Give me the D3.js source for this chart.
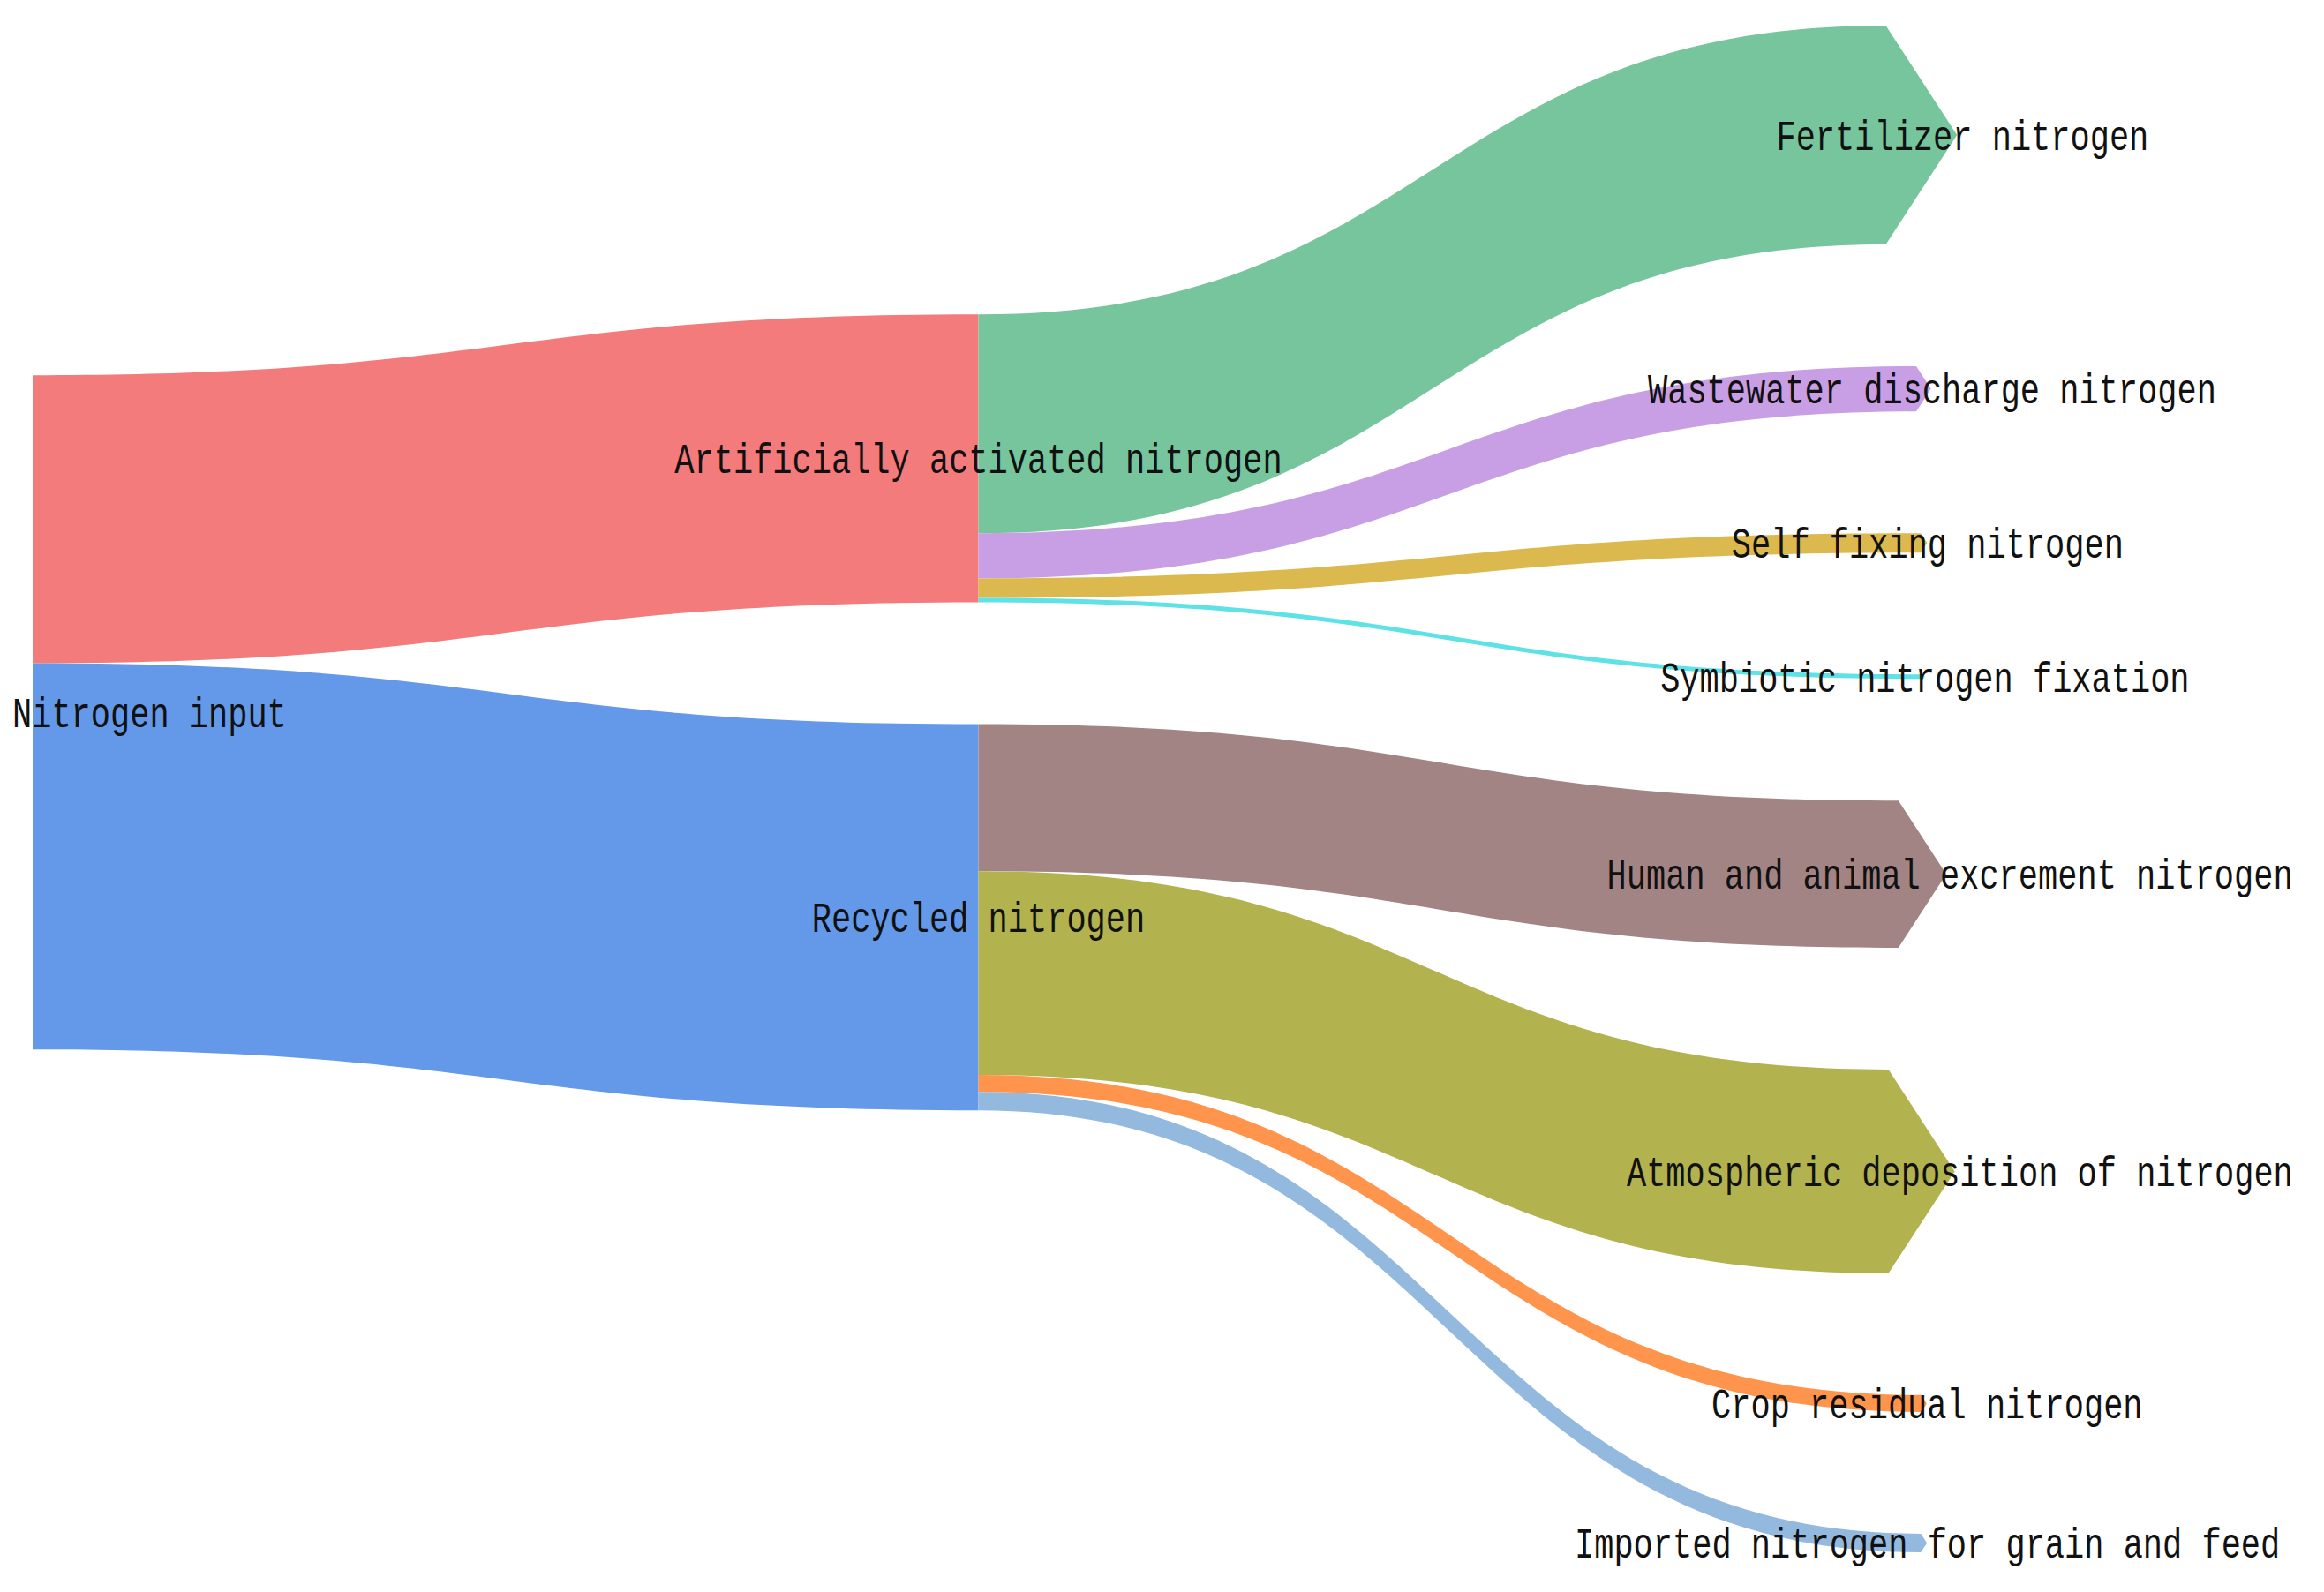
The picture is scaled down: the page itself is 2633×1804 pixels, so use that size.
<!DOCTYPE html>
<html>
<head>
<meta charset="utf-8">
<script src="https://cdn.jsdelivr.net/npm/d3@7"></script>
<style>
  html, body { margin: 0; padding: 0; background: #ffffff; }
  svg { display: block; }
</style>
</head>
<body>
<svg id="chart" width="2633" height="1804"></svg>
<script>
// ---------------- DATA ----------------
const nodeNames = [
  "Nitrogen input",
  "Artificially activated nitrogen",
  "Recycled nitrogen",
  "Fertilizer nitrogen",
  "Wastewater discharge nitrogen",
  "Self fixing nitrogen",
  "Symbiotic nitrogen fixation",
  "Human and animal excrement nitrogen",
  "Atmospheric deposition of nitrogen",
  "Crop residual nitrogen",
  "Imported nitrogen for grain and feed"
];
const linkSources = [0, 0, 1, 1, 1, 1, 2, 2, 2, 2];
const linkTargets = [1, 2, 3, 4, 5, 6, 7, 8, 9, 10];
const linkValues  = [325, 436, 247, 51, 22, 5, 166, 230, 19, 21];
const linkColors  = ["#F37B7B", "#6399E8", "#76C59D", "#C89FE5", "#DCB94F",
                     "#5EE2E6", "#A38484", "#B2B24F", "#FF944D", "#93B9DF"];

// ---------------- LAYOUT SETTINGS ----------------
const W = 2633, H = 1804;
const extent = { x0: 37, y0: 29, x1: 2180, y1: 1759 };
const nodeWidth = 0;
const nodePadding = 138;
const iterations = 1;
const keepOrder = true;
const arrowBack = 0.35, arrowTip = 0.30, labelShift = 0.35;
const fontSize = 37, fontStretch = 1.3;

// ---------------- SANKEY (port of d3-sankey algorithm) ----------------
function sankey(nodes, links) {
  const {x0, y0, x1, y1} = extent;
  const dx = nodeWidth;
  let py = nodePadding;
  nodes.forEach((n, i) => { n.index = i; n.sourceLinks = []; n.targetLinks = []; });
  links.forEach((l, i) => {
    l.index = i;
    l.source = nodes[l.source]; l.target = nodes[l.target];
    l.source.sourceLinks.push(l); l.target.targetLinks.push(l);
  });
  nodes.forEach(n => {
    n.value = Math.max(d3.sum(n.sourceLinks, l => l.value), d3.sum(n.targetLinks, l => l.value));
  });
  let current = new Set(nodes), next = new Set(), x = 0;
  while (current.size) {
    for (const n of current) { n.depth = x; for (const {target} of n.sourceLinks) next.add(target); }
    if (++x > nodes.length) throw new Error("circular link");
    current = next; next = new Set();
  }
  const nLayers = d3.max(nodes, d => d.depth) + 1;
  const kx = (x1 - x0 - dx) / (nLayers - 1);
  const columns = new Array(nLayers);
  for (const n of nodes) {
    const i = Math.max(0, Math.min(nLayers - 1, n.sourceLinks.length ? n.depth : nLayers - 1));
    n.layer = i;
    n.x0 = x0 + i * kx;
    n.x1 = n.x0 + dx;
    if (columns[i]) columns[i].push(n); else columns[i] = [n];
  }
  py = Math.min(nodePadding, (y1 - y0) / (d3.max(columns, c => c.length) - 1));

  const ascBreadth = (a, b) => a.y0 - b.y0;
  const ascSrc = (a, b) => ascBreadth(a.source, b.source) || a.index - b.index;
  const ascTgt = (a, b) => ascBreadth(a.target, b.target) || a.index - b.index;
  function reorderLinks(ns) {
    for (const {sourceLinks, targetLinks} of ns) { sourceLinks.sort(ascTgt); targetLinks.sort(ascSrc); }
  }
  function reorderNodeLinks({sourceLinks, targetLinks}) {
    for (const {source} of targetLinks) source.sourceLinks.sort(ascTgt);
    for (const {target} of sourceLinks) target.targetLinks.sort(ascSrc);
  }
  const ky = d3.min(columns, c => (y1 - y0 - (c.length - 1) * py) / d3.sum(c, d => d.value));
  for (const ns of columns) {
    let y = y0;
    for (const n of ns) {
      n.y0 = y; n.y1 = y + n.value * ky; y = n.y1 + py;
      for (const l of n.sourceLinks) l.width = l.value * ky;
    }
    y = (y1 - y + py) / (ns.length + 1);
    for (let i = 0; i < ns.length; ++i) { ns[i].y0 += y * (i + 1); ns[i].y1 += y * (i + 1); }
    reorderLinks(ns);
  }
  function targetTop(source, target) {
    let y = source.y0 - (source.sourceLinks.length - 1) * py / 2;
    for (const {target: node, width} of source.sourceLinks) { if (node === target) break; y += width + py; }
    for (const {source: node, width} of target.targetLinks) { if (node === source) break; y -= width; }
    return y;
  }
  function sourceTop(source, target) {
    let y = target.y0 - (target.targetLinks.length - 1) * py / 2;
    for (const {source: node, width} of target.targetLinks) { if (node === source) break; y += width + py; }
    for (const {target: node, width} of source.sourceLinks) { if (node === target) break; y -= width; }
    return y;
  }
  function collTB(ns, y, i, a) {
    for (; i < ns.length; ++i) { const n = ns[i]; const d = (y - n.y0) * a; if (d > 1e-6) { n.y0 += d; n.y1 += d; } y = n.y1 + py; }
  }
  function collBT(ns, y, i, a) {
    for (; i >= 0; --i) { const n = ns[i]; const d = (n.y1 - y) * a; if (d > 1e-6) { n.y0 -= d; n.y1 -= d; } y = n.y0 - py; }
  }
  function resolve(ns, a) {
    const i = ns.length >> 1, s = ns[i];
    collBT(ns, s.y0 - py, i - 1, a);
    collTB(ns, s.y1 + py, i + 1, a);
    collBT(ns, y1, ns.length - 1, a);
    collTB(ns, y0, 0, a);
  }
  function relaxLR(a, b) {
    for (let i = 1; i < columns.length; ++i) {
      const col = columns[i];
      for (const t of col) {
        let y = 0, w = 0;
        for (const {source, value} of t.targetLinks) {
          const v = value * (t.layer - source.layer);
          y += targetTop(source, t) * v; w += v;
        }
        if (!(w > 0)) continue;
        const d = (y / w - t.y0) * a; t.y0 += d; t.y1 += d; reorderNodeLinks(t);
      }
      if (!keepOrder) col.sort(ascBreadth);
      resolve(col, b);
    }
  }
  function relaxRL(a, b) {
    for (let i = columns.length - 2; i >= 0; --i) {
      const col = columns[i];
      for (const s of col) {
        let y = 0, w = 0;
        for (const {target, value} of s.sourceLinks) {
          const v = value * (target.layer - s.layer);
          y += sourceTop(s, target) * v; w += v;
        }
        if (!(w > 0)) continue;
        const d = (y / w - s.y0) * a; s.y0 += d; s.y1 += d; reorderNodeLinks(s);
      }
      if (!keepOrder) col.sort(ascBreadth);
      resolve(col, b);
    }
  }
  for (let i = 0; i < iterations; ++i) {
    const a = Math.pow(0.99, i);
    const b = Math.max(1 - a, (i + 1) / iterations);
    relaxRL(a, b); relaxLR(a, b);
  }
  for (const n of nodes) {
    let ya = n.y0, yb = n.y0;
    for (const l of n.sourceLinks) { l.y0 = ya + l.width / 2; ya += l.width; }
    for (const l of n.targetLinks) { l.y1 = yb + l.width / 2; yb += l.width; }
  }
  return {nodes, links};
}

const graph = sankey(
  nodeNames.map(name => ({name})),
  linkValues.map((v, i) => ({source: linkSources[i], target: linkTargets[i], value: v, color: linkColors[i]}))
);

// ---------------- DRAW ----------------
const svg = d3.select("#chart");
svg.append("rect").attr("width", W).attr("height", H).attr("fill", "#ffffff");

function ribbon(l) {
  const h = l.width / 2;
  const xs = l.source.x1, xt = l.target.x0;
  const last = l.target.sourceLinks.length === 0;
  const xe = last ? xt - arrowBack * h : xt;
  const xm = (xs + xe) / 2;
  const p = d3.path();
  p.moveTo(xs, l.y0 - h);
  p.bezierCurveTo(xm, l.y0 - h, xm, l.y1 - h, xe, l.y1 - h);
  if (last) p.lineTo(xt + arrowTip * h, l.y1);
  p.lineTo(xe, l.y1 + h);
  p.bezierCurveTo(xm, l.y1 + h, xm, l.y0 + h, xs, l.y0 + h);
  p.closePath();
  return p.toString();
}

svg.append("g").attr("class", "links")
  .selectAll("path").data(graph.links).join("path")
  .attr("d", ribbon)
  .attr("fill", d => d.color)
  .attr("stroke", "none");

const labels = svg.append("g").attr("class", "labels")
  .selectAll("text").data(graph.nodes).join("text")
  .text(d => d.name)
  .attr("font-family", "'Liberation Mono', 'DejaVu Sans Mono', monospace")
  .attr("font-size", fontSize)
  .attr("fill", "#111111")
  .attr("dy", "0.35em")
  .attr("text-anchor", "start");

labels.each(function(d) {
  const len = this.getComputedTextLength();
  const half = (d.y1 - d.y0) / 2;
  let cx = d.x0;
  if (!d.sourceLinks.length) cx = d.x0 + labelShift * half;
  let left = cx - len / 2;
  left = Math.max(14, Math.min(W - 14 - len, left));
  const cy = (d.y0 + d.y1) / 2;
  d3.select(this).attr("transform", `translate(${left},${cy}) scale(1,${fontStretch})`);
});
</script>
</body>
</html>
